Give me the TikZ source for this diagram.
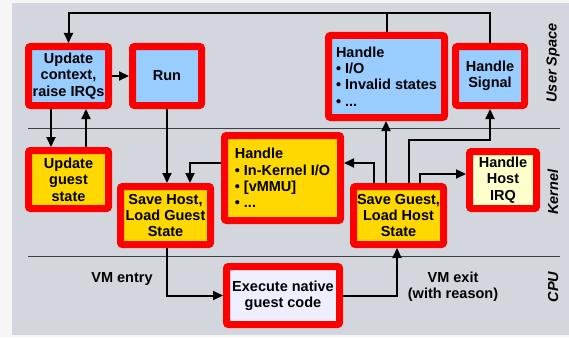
\documentclass[tikz,border=0pt]{standalone}
\usepackage{fontspec}
\setmainfont{Liberation Sans}
\usetikzlibrary{arrows.meta,calc}
\definecolor{bgray}{HTML}{D3D6DC}
\definecolor{outer}{HTML}{F6F6F6}
\definecolor{bluef}{HTML}{99CCFF}
\definecolor{yellf}{HTML}{FFD800}
\definecolor{paley}{HTML}{FFFFCC}
\definecolor{lav}{HTML}{EEEEFF}
\begin{document}
\begin{tikzpicture}[x=1pt,y=-1pt,
  font=\fontsize{14.5}{16.4}\selectfont\bfseries,
  box/.style={draw=red, line width=7pt, rounded corners=2pt, inner sep=0pt, outer sep=3.5pt, align=center},
  arr/.style={line width=2pt, line join=miter, -{Triangle[length=10pt,width=9pt]}},
  ln/.style={line width=2pt},
  sep/.style={line width=0.8pt, black!75},
  side/.style={font=\fontsize{14.5}{16.4}\selectfont\bfseries\itshape, rotate=90}]
\useasboundingbox (0,0) rectangle (569,337);
\fill[outer] (0,0) rectangle (569,337);
\fill[bgray] (12,3) rectangle (569,335);
\draw[sep] (28,128) -- (560,128);
\draw[sep] (28,256) -- (560,256);

\node[box, fill=bluef, minimum width=80pt, minimum height=59pt] (upd) at (68.5,76) {Update\\context,\\raise IRQs};
\node[box, fill=bluef, minimum width=69pt, minimum height=59pt] (run) at (167,76) {Run};
\node[box, fill=yellf, minimum width=80pt, minimum height=58pt] (ugs) at (68.5,179.5) {Update\\guest\\state};
\node[box, fill=yellf, minimum width=90pt, minimum height=58pt] (shl) at (165.5,215.5) {Save Host,\\Load Guest\\State};
\node[box, fill=yellf, minimum width=116pt, minimum height=85pt, align=left] (hik) at (282.5,178) {Handle\\• In-Kernel I/O\\• [vMMU]\\• ...};
\node[box, fill=yellf, minimum width=90pt, minimum height=58pt] (sgl) at (398.5,215.5) {Save Guest,\\Load Host\\State};
\node[box, fill=lav, minimum width=113pt, minimum height=58pt] (exe) at (283,295.5) {Execute native\\guest code};
\node[box, fill=bluef, minimum width=116pt, minimum height=82pt, align=left] (hio) at (386.5,76.5) {Handle\\• I/O\\• Invalid states\\• ...};
\node[box, fill=bluef, minimum width=69pt, minimum height=59pt] (hsig) at (490,76) {Handle\\Signal};
\node[box, fill=paley, minimum width=67pt, minimum height=57pt] (hirq) at (503,180) {Handle\\Host\\IRQ};

\node[side] (lus) at (553,63) {User Space};
\node[side] (lk) at (553,192) {Kernel};
\node[side] (lcpu) at (553,287) {CPU};
\node[align=center] (lentry) at (122,279) {VM entry};
\node[align=center] (lexit) at (453,286.5) {VM exit\\(with reason)};

\coordinate (top) at (0,13);
\draw[arr] (hsig.north) -- (hsig.north |- top) -| (upd.north);
\draw[ln] (hio.north) -- (hio.north |- top);
\draw[arr] (upd.east) -- (run.west);
\draw[arr] ([xshift=-17.5pt]upd.south) -- ([xshift=-17.5pt]upd.south |- ugs.north);
\draw[arr] ([xshift=17.5pt]ugs.north) -- ([xshift=17.5pt]ugs.north |- upd.south);
\draw[arr] (run.south) -- (run.south |- shl.north);
\draw[arr] ([yshift=15pt]hik.west) -| ([xshift=24.5pt]shl.north);
\draw[arr] ([xshift=-24.5pt]sgl.north) |- ([yshift=15pt]hik.east);
\draw[arr] ([xshift=-12.5pt]sgl.north) -- ([xshift=-12.5pt]sgl.north |- hio.south);
\draw[arr] ([xshift=10.5pt]sgl.north) |- (hsig.south |- 0,140) -- (hsig.south);
\draw[arr] ([xshift=21.5pt]sgl.north) |- ([yshift=6pt]hirq.west);
\draw[arr] ([xshift=1.5pt]shl.south) |- (exe.west);
\draw[arr] (exe.east) -| ([xshift=-1.5pt]sgl.south);
\end{tikzpicture}
\end{document}
